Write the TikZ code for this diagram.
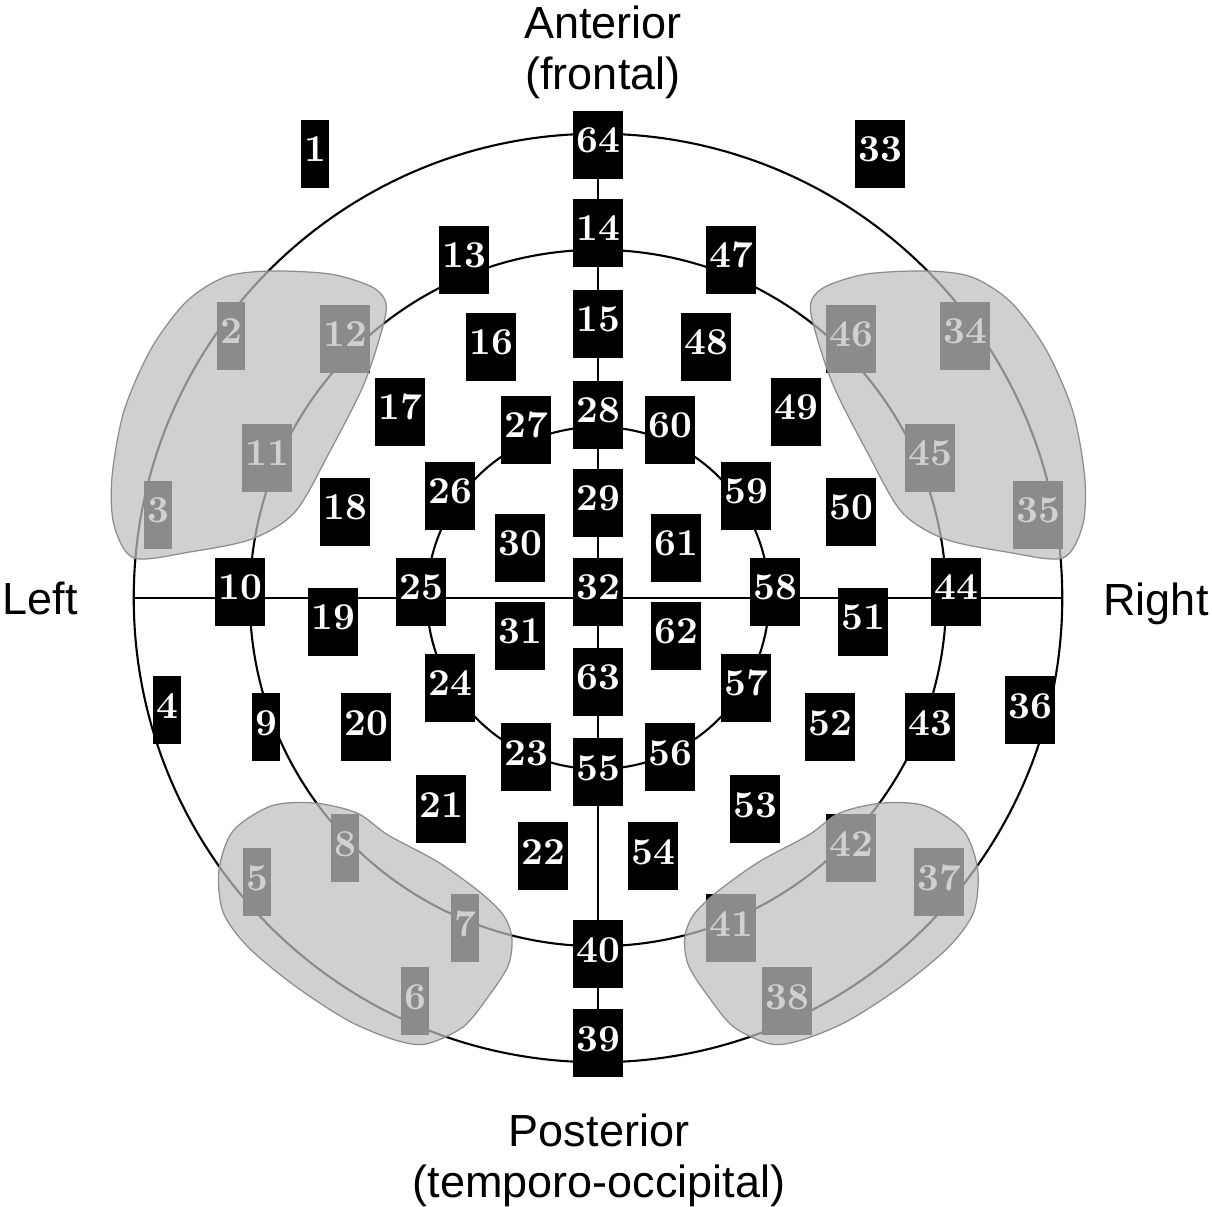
\documentclass[tikz,border=0pt]{standalone}
\usepackage{fontspec}
\newfontfamily\labelfont{Liberation Sans}

\begin{document}
\begin{tikzpicture}[x=0.01cm, y=-0.01cm,
  electrode/.style={rectangle, fill=black, text=white, font=\fontsize{10.8}{12}\selectfont\bfseries,
    inner xsep=0.03cm, inner ysep=0pt, minimum height=0.67cm, text height=0.25cm, text depth=0.09cm},
  ring/.style={circle, draw, line width=0.6pt, inner sep=0pt, minimum size=#1},
  region/.style={draw=black!45, line width=0.35pt, fill=black!25, fill opacity=0.73},
  side/.style={font=\labelfont\fontsize{12.8}{14.5}\selectfont, inner sep=0pt, align=center}]

  \useasboundingbox (0,0) rectangle (1212,1207);

  % head outline and the three rings
  \coordinate (c) at (598,598);
  \node[ring=9.28cm] (outer) at (c) {};
  \node[ring=6.96cm] (middle) at (c) {};
  \node[ring=3.42cm] (inner) at (c) {};
  \draw[line width=0.6pt] (outer.west) -- (outer.east);
  \draw[line width=0.6pt] (outer.north) -- (outer.south);

  % electrodes
  \foreach \n/\x/\y in {1/315/154, 2/231/336, 3/158/515, 4/167/710, 5/257/882, 6/415/1001,
      7/465/928, 8/345/848, 9/266/727, 10/240/592, 11/267/458, 12/345/339, 13/464/260,
      14/598/233, 15/598/324, 16/491/347, 17/400/412, 18/345/512, 19/333/622, 20/366/727,
      21/441/809, 22/543/856, 23/526/757, 24/450/688, 25/421/592, 26/450/496, 27/526/430,
      28/598/415, 29/598/503, 30/520/548, 31/520/636, 32/598/592, 33/880/154, 34/965/336,
      35/1038/515, 36/1030/710, 37/939/882, 38/787/1001, 39/598/1043, 40/598/954,
      41/731/928, 42/851/848, 43/930/727, 44/956/592, 45/930/458, 46/851/339, 47/731/260,
      48/706/347, 49/796/412, 50/851/512, 51/863/622, 52/830/727, 53/755/809, 54/653/856,
      55/598/772, 56/670/757, 57/746/688, 58/775/592, 59/746/496, 60/670/430, 61/676/548,
      62/676/636, 63/598/682, 64/598/145}
    \node[electrode] (e\n) at (\x,\y) {\n};

  % directions
  \node[side] (anterior) at (603,52) {Anterior\\(frontal)};
  \node[side, anchor=base] (left) at (40,615) {Left};
  \node[side, anchor=base] (right) at (1156,616) {Right};
  \node[side] (posterior) at (599,1160) {Posterior\\(temporo-occipital)};

  % shaded regions, left side and its mirror image
  \foreach \s/\d in {1/0, -1/11.96} {
    \begin{scope}[xshift=\d cm, xscale=\s]
      \draw[region] plot[smooth cycle] coordinates {(134,558) (190,552) (252,539) (295,512)
        (329,453) (364,384) (384,322) (385,300) (370,286) (330,274) (270,271) (225,277)
        (186,302) (151,349) (124,411) (112,477) (114,525)};
      \draw[region] plot[smooth cycle] coordinates {(314,803) (357,813) (388,835) (438,862)
        (481,893) (504,916) (512,939) (508,966) (488,997) (463,1027) (426,1044) (395,1040)
        (349,1021) (295,986) (248,947) (223,912) (219,870) (233,831) (271,806)};
    \end{scope}
  }

\end{tikzpicture}
\end{document}
